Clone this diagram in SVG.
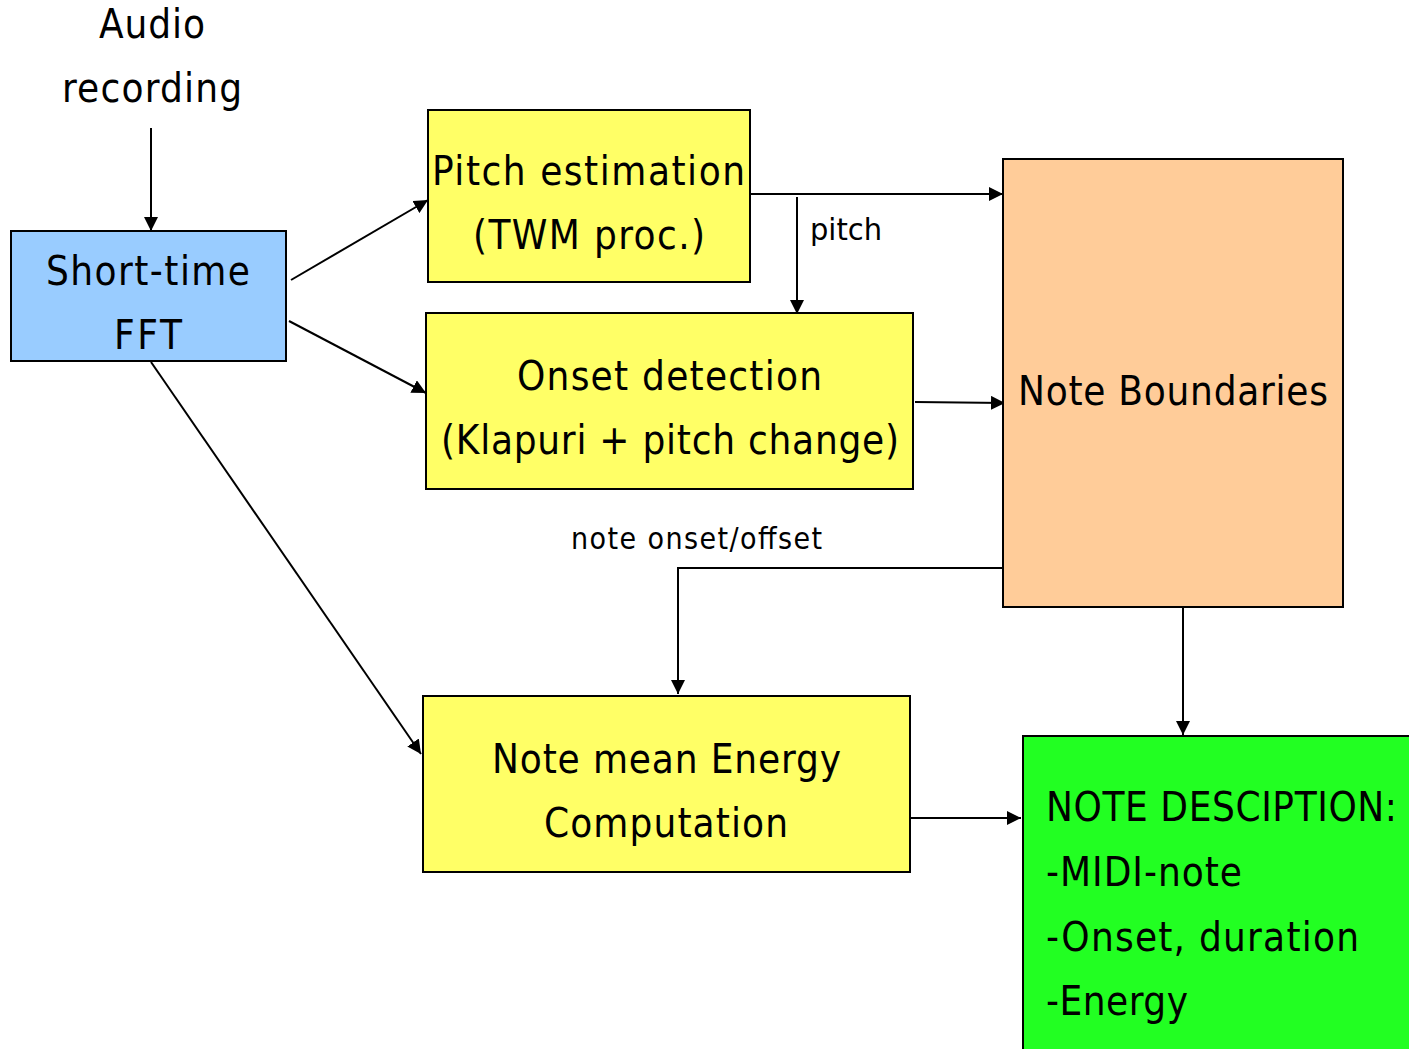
<svg xmlns="http://www.w3.org/2000/svg" width="1409" height="1049" viewBox="0 0 1409 1049">
<style>
.box{stroke:#000;stroke-width:2}
.t{font-family:"DejaVu Sans Condensed","DejaVu Sans",sans-serif;font-size:40px;fill:#000}
.s{font-family:"DejaVu Sans Condensed","DejaVu Sans",sans-serif;font-size:30px;fill:#000}
.c{fill:none;stroke:#000;stroke-width:2}
</style>
<defs>
<marker id="ah" viewBox="0 0 14 14" refX="14" refY="7" markerWidth="14" markerHeight="14" markerUnits="userSpaceOnUse" orient="auto">
<path d="M0,0 L14,7 L0,14 Z" fill="#000"/>
</marker>
</defs>
<rect width="1409" height="1049" fill="#fff"/>
<g id="connectors">
<line class="c" x1="151" y1="128" x2="151" y2="231" marker-end="url(#ah)"/>
<line class="c" x1="291" y1="280" x2="428" y2="200" marker-end="url(#ah)"/>
<line class="c" x1="289" y1="321" x2="426" y2="393" marker-end="url(#ah)"/>
<line class="c" x1="151" y1="362" x2="421" y2="754" marker-end="url(#ah)"/>
<line class="c" x1="750" y1="194" x2="1003" y2="194" marker-end="url(#ah)"/>
<line class="c" x1="797" y1="197" x2="797" y2="314" marker-end="url(#ah)"/>
<line class="c" x1="915" y1="402" x2="1005" y2="403" marker-end="url(#ah)"/>
<polyline class="c" points="1003,568 678,568 678,694" marker-end="url(#ah)"/>
<line class="c" x1="1183" y1="607" x2="1183" y2="735" marker-end="url(#ah)"/>
<line class="c" x1="910" y1="818" x2="1021" y2="818" marker-end="url(#ah)"/>
<text class="s" x="810" y="240" textLength="72" lengthAdjust="spacingAndGlyphs">pitch</text>
<text class="s" x="571" y="549" textLength="251" lengthAdjust="spacing">note onset/offset</text>
</g>
<g id="audio">
<text class="t" x="99" y="38" textLength="106" lengthAdjust="spacing">Audio</text>
<text class="t" x="62" y="102" textLength="180" lengthAdjust="spacing">recording</text>
</g>
<g id="fft">
<rect class="box" x="11" y="231" width="275" height="130" fill="#99CCFF"/>
<text class="t" x="46" y="285" textLength="204" lengthAdjust="spacing">Short-time</text>
<text class="t" x="114" y="349" textLength="68" lengthAdjust="spacing">FFT</text>
</g>
<g id="pitch">
<rect class="box" x="428" y="110" width="322" height="172" fill="#FFFF66"/>
<text class="t" x="432" y="185" textLength="313" lengthAdjust="spacing">Pitch estimation</text>
<text class="t" x="473" y="249" textLength="232" lengthAdjust="spacing">(TWM proc.)</text>
</g>
<g id="onset">
<rect class="box" x="426" y="313" width="487" height="176" fill="#FFFF66"/>
<text class="t" x="517" y="390" textLength="305" lengthAdjust="spacing">Onset detection</text>
<text class="t" x="441" y="454" textLength="458" lengthAdjust="spacing">(Klapuri + pitch change)</text>
</g>
<g id="boundaries">
<rect class="box" x="1003" y="159" width="340" height="448" fill="#FFCC99"/>
<text class="t" x="1018" y="405" textLength="310" lengthAdjust="spacing">Note Boundaries</text>
</g>
<g id="energy">
<rect class="box" x="423" y="696" width="487" height="176" fill="#FFFF66"/>
<text class="t" x="492" y="773" textLength="349" lengthAdjust="spacing">Note mean Energy</text>
<text class="t" x="544" y="837" textLength="244" lengthAdjust="spacing">Computation</text>
</g>
<g id="description">
<rect class="box" x="1023" y="736" width="400" height="330" fill="#22FF22"/>
<text class="t" x="1046" y="821" textLength="351" lengthAdjust="spacing">NOTE DESCIPTION:</text>
<text class="t" x="1046" y="886" textLength="196" lengthAdjust="spacing">-MIDI-note</text>
<text class="t" x="1046" y="951" textLength="313" lengthAdjust="spacing">-Onset, duration</text>
<text class="t" x="1046" y="1015" textLength="142" lengthAdjust="spacing">-Energy</text>
</g>
</svg>
